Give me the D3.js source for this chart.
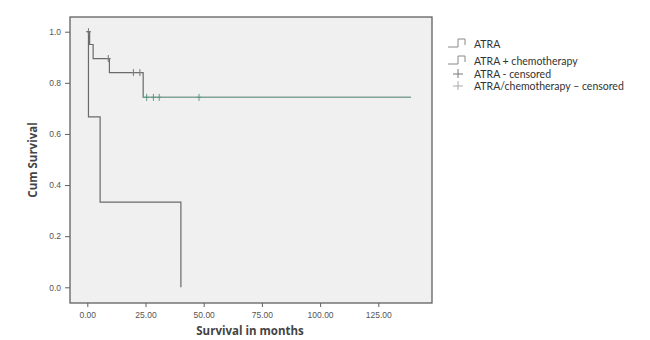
<!DOCTYPE html>
<html><head><meta charset="utf-8">
<script src="https://cdn.jsdelivr.net/npm/d3@7"></script>
<style>body{margin:0;background:#fff}svg{display:block}</style>
</head><body>
<svg id="c" width="650" height="340"></svg>
<script>
// Data
const atraTimes = [0, 0.5, 5.5, 40.2];
const atraSurv  = [1.0, 0.667, 0.333, 0.0];
const chemoTimes = [0, 1.0, 2.5, 9.5, 24.0, 139];
const chemoSurv  = [1.0, 0.95, 0.895, 0.84, 0.743, 0.743];
const chemoCensorTimes = [0.5, 9.0, 19.8, 22.6, 25.5, 28.4, 30.9, 48.0];
const chemoCensorSurv  = [1.0, 0.895, 0.84, 0.84, 0.743, 0.743, 0.743, 0.743];
const xTicks = [0, 25, 50, 75, 100, 125];
const yTicks = [0, 0.2, 0.4, 0.6, 0.8, 1.0];
const legendLabels = ["ATRA", "ATRA + chemotherapy", "ATRA - censored", "ATRA/chemotherapy \u2013 censored"];

const svg = d3.select("#c");
const frame = {l:70, t:17, r:432, b:303};
const x = d3.scaleLinear().domain([0,125]).range([87.3, 378.3]);
const y = d3.scaleLinear().domain([0,1]).range([287.3, 31.7]);

svg.append("rect").attr("x",frame.l).attr("y",frame.t)
  .attr("width",frame.r-frame.l).attr("height",frame.b-frame.t)
  .attr("fill","#f0f0f0").attr("stroke","#606060").attr("stroke-width",1.3);

// axes
const gx = svg.append("g").attr("transform",`translate(0,${frame.b})`)
  .call(d3.axisBottom(x).tickValues(xTicks).tickFormat(d3.format(".2f")).tickSize(4).tickPadding(5));
const gy = svg.append("g").attr("transform",`translate(${frame.l},0)`)
  .call(d3.axisLeft(y).tickValues(yTicks).tickFormat(d3.format(".1f")).tickSize(5).tickPadding(4));
[gx,gy].forEach(g=>{
  g.select(".domain").remove();
  g.selectAll("line").attr("stroke","#606060");
  g.selectAll("text").attr("fill","#555").style("font-family","Liberation Sans, Arial").style("font-size","8.5px");
});

svg.append("text").attr("x",250).attr("y",335).attr("text-anchor","middle")
  .style("font-family","Open Sans, Liberation Sans").style("font-weight","bold").style("font-size","11.5px")
  .attr("fill","#444").text("Survival in months");
svg.append("text").attr("transform","translate(37,160) rotate(-90)").attr("text-anchor","middle")
  .style("font-family","Open Sans, Liberation Sans").style("font-weight","bold").style("font-size","11.5px")
  .attr("fill","#444").text("Cum Survival");

const line = d3.line().x(d=>x(d[0])).y(d=>y(d[1])).curve(d3.curveStepAfter);
svg.append("path").datum(d3.zip(atraTimes, atraSurv)).attr("d", line)
  .attr("fill","none").attr("stroke","#6a6a6a").attr("stroke-width",1.2);
const chemo = d3.zip(chemoTimes, chemoSurv);
svg.append("path").datum(chemo).attr("d", line)
  .attr("fill","none").attr("stroke","#6a6a6a").attr("stroke-width",1.2);
svg.append("path").datum(chemo.slice(4)).attr("d", line)
  .attr("fill","none").attr("stroke","#7fa89c").attr("stroke-width",1.2);

// censor markers
const cz = d3.zip(chemoCensorTimes, chemoCensorSurv);
svg.append("g").selectAll("path").data(cz).join("path")
  .attr("d", d=>`M${x(d[0])},${y(d[1])-3.5}V${y(d[1])+3.5}M${x(d[0])-2.5},${y(d[1])}H${x(d[0])+2.5}`)
  .attr("stroke", d=> d[1] < 0.8 ? "#5f9a88" : "#777").attr("stroke-width",1);

// legend
const lg = svg.append("g");
const rowsY = [44, 61, 74, 86];
legendLabels.forEach((t,i)=>{
  const yy = rowsY[i];
  if (i<2) {
    lg.append("path").attr("d",`M448,${yy+3}H458V${yy-5}H465V${yy+1}`)
      .attr("fill","none").attr("stroke","#888").attr("stroke-width",1);
  } else {
    lg.append("path").attr("d",`M458,${yy-5}V${yy+4}M453,${yy}H463`)
      .attr("stroke", i===2 ? "#777" : "#aaa").attr("stroke-width",1);
  }
  lg.append("text").attr("x",474).attr("y",yy+4)
    .style("font-family","Lato, Open Sans").style("font-size","10.5px").attr("fill","#333").text(t);
});
</script>
</body></html>
